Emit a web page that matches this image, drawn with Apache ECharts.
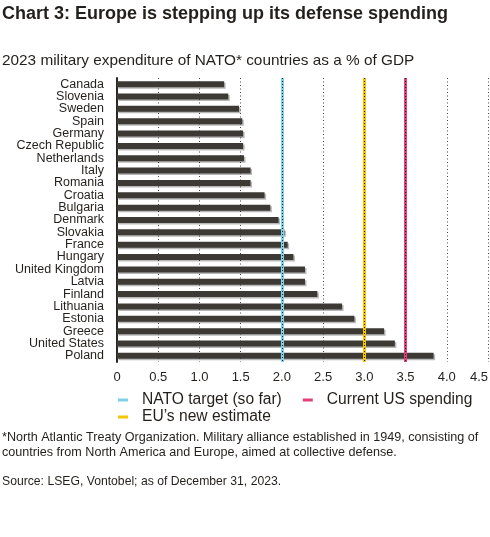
<!DOCTYPE html>
<html>
<head>
<meta charset="utf-8">
<script src="https://cdn.jsdelivr.net/npm/echarts@6/dist/echarts.min.js"></script>
<style>
html,body{margin:0;padding:0;background:#fff;}
#chart{width:490px;height:537px;}
</style>
</head>
<body>
<div id="chart"></div>
<script>
// countries, top to bottom as in the picture
var countries = ['Canada','Slovenia','Sweden','Spain','Germany','Czech Republic','Netherlands','Italy','Romania','Croatia','Bulgaria','Denmark','Slovakia','France','Hungary','United Kingdom','Latvia','Finland','Lithuania','Estonia','Greece','United States','Poland'];
// military expenditure, % of GDP
var spending = [1.30,1.35,1.48,1.52,1.53,1.53,1.54,1.62,1.62,1.79,1.86,1.96,2.03,2.07,2.14,2.28,2.28,2.43,2.73,2.88,3.24,3.37,3.84];
var refNames = ['NATO target (so far)','EU\u2019s new estimate','Current US spending'];
var refValues = [2.0,3.0,3.5];
var refColors = ['#7fd1e8','#f6c500','#e6407a'];

var font = '"Liberation Sans", Arial, sans-serif';
var textCol = '#231f1c';

var myChart = echarts.init(document.getElementById('chart'));

var series = [{
    name: 'spending',
    type: 'bar',
    data: spending,
    barWidth: 6,
    z: 3,
    itemStyle: {
        color: '#3d3a36',
        shadowColor: 'rgba(0,0,0,0.28)',
        shadowOffsetX: 1.5,
        shadowOffsetY: 1.5,
        shadowBlur: 0
    }
}];
for (var i = 0; i < refNames.length; i++) {
    series.push({
        name: refNames[i],
        type: 'line',
        data: [],
        z: 2,
        color: refColors[i],
        markLine: {
            silent: true,
            symbol: 'none',
            label: {show: false},
            data: [
                {xAxis: refValues[i], lineStyle: {color: refColors[i], width: 3, type: 'solid'}},
                {xAxis: refValues[i], lineStyle: {color: '#222', width: 1, type: [1, 2]}}
            ]
        }
    });
}

option = {
    animation: false,
    textStyle: {fontFamily: font},
    title: [
        {
            text: 'Chart 3: Europe is stepping up its defense spending',
            left: 2, top: 5, padding: 0,
            textStyle: {fontFamily: font, fontSize: 18, fontWeight: 'bold', color: textCol}
        },
        {
            text: '2023 military expenditure of NATO* countries as a % of GDP',
            left: 2, top: 53, padding: 0,
            textStyle: {fontFamily: font, fontSize: 15.35, fontWeight: 'normal', color: textCol}
        },
        {
            text: '*North Atlantic Treaty Organization. Military alliance established in 1949, consisting of\ncountries from North America and Europe, aimed at collective defense.',
            left: 2, top: 430, padding: 0,
            textStyle: {fontFamily: font, fontSize: 12.6, fontWeight: 'normal', color: textCol, lineHeight: 15}
        },
        {
            text: 'Source: LSEG, Vontobel; as of December 31, 2023.',
            left: 2, top: 476, padding: 0,
            textStyle: {fontFamily: font, fontSize: 12.2, fontWeight: 'normal', color: textCol}
        }
    ],
    legend: [
        {
            data: [refNames[0], refNames[2]],
            left: 113, top: 387,
            icon: 'rect', itemWidth: 10, itemHeight: 3, itemGap: 21,
            textStyle: {fontFamily: font, fontSize: 15.6, color: textCol, padding: [0, 0, 0, 9]}
        },
        {
            data: [refNames[1]],
            left: 113, top: 404,
            icon: 'rect', itemWidth: 10, itemHeight: 3,
            textStyle: {fontFamily: font, fontSize: 15.6, color: textCol, padding: [0, 0, 0, 9]}
        }
    ],
    grid: {
        left: 117,
        right: 2,
        top: 78,
        height: 284,
        containLabel: false,
        outerBoundsMode: 'none'
    },
    xAxis: {
        type: 'value',
        min: 0, max: 4.5, interval: 0.5,
        axisLine: {show: false},
        axisTick: {show: false},
        axisLabel: {
            fontFamily: font, fontSize: 13, color: textCol, margin: 9,
            showMaxLabel: true, alignMaxLabel: 'right',
            formatter: function (v) { return v === 0 ? '0' : v.toFixed(1); }
        },
        splitLine: {show: true, lineStyle: {color: '#444', width: 1, type: [1, 2.5]}}
    },
    yAxis: {
        type: 'category',
        inverse: true,
        data: countries,
        axisTick: {show: false},
        axisLine: {show: true, lineStyle: {color: '#2a2623', width: 2}},
        axisLabel: {fontFamily: font, fontSize: 12.5, color: textCol, margin: 13, interval: 0}
    },
    series: series
};
myChart.setOption(option);
</script>
</body>
</html>
